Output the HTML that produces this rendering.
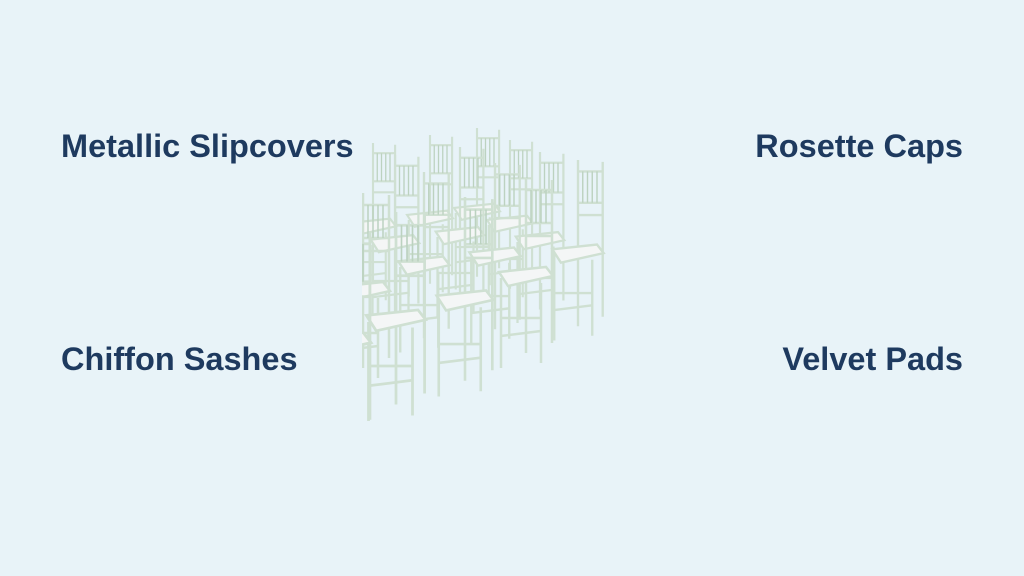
<!DOCTYPE html>
<html><head><style>
body{margin:0;width:1024px;height:576px;background:#e8f3f8;position:relative;overflow:hidden;font-family:"Liberation Sans",Arial,sans-serif}
.t{position:absolute;font-weight:bold;font-size:32.5px;color:#1e3a5f;line-height:1;white-space:nowrap}
svg{position:absolute;left:0;top:0}
</style></head><body>
<div class="t" style="left:61px;top:130px">Metallic Slipcovers</div>
<div class="t" style="right:61px;top:130px">Rosette Caps</div>
<div class="t" style="left:61px;top:343px">Chiffon Sashes</div>
<div class="t" style="right:61px;top:343px">Velvet Pads</div>
<svg width="1024" height="576">
<defs>
<clipPath id="c"><rect x="362" y="100" width="260" height="360"/></clipPath>
<g id="ch" fill="none" stroke="#cfe0d2" stroke-width="2.5">
<line x1="0" y1="0" x2="0" y2="175"/>
<line x1="26" y1="2" x2="26" y2="165"/>
<line x1="0" y1="12" x2="26" y2="12"/>
<line x1="0" y1="45" x2="26" y2="45"/>
<line x1="0" y1="58" x2="26" y2="58"/>
<g stroke-width="1.5" stroke="#bcd2c0"><line x1="5" y1="12" x2="5" y2="45"/><line x1="10" y1="12" x2="10" y2="45"/><line x1="15" y1="12" x2="15" y2="45"/><line x1="20" y1="12" x2="20" y2="45"/></g>
<line x1="-25" y1="100" x2="-25" y2="190"/>
<line x1="15" y1="105" x2="15" y2="185"/>
<line x1="-25" y1="140" x2="15" y2="140"/>
<line x1="-25" y1="158" x2="15" y2="153"/>
<path d="M-27 94 L20 89 L27 98 L-18 108 Z" fill="#f4f6f6" stroke="#cfe0d2"/>
</g>
</defs>
<g clip-path="url(#c)">
<use href="#ch" transform="translate(373,143) scale(0.85)"/>
<use href="#ch" transform="translate(430,135) scale(0.85)"/>
<use href="#ch" transform="translate(477,128) scale(0.85)"/>
<use href="#ch" transform="translate(510,140) scale(0.85)"/>
<use href="#ch" transform="translate(395,155) scale(0.9)"/>
<use href="#ch" transform="translate(460,147) scale(0.9)"/>
<use href="#ch" transform="translate(540,152) scale(0.9)"/>
<use href="#ch" transform="translate(578,160) scale(0.95)"/>
<use href="#ch" transform="translate(424,172) scale(0.95)"/>
<use href="#ch" transform="translate(495,163) scale(0.95)"/>
<use href="#ch" transform="translate(363,193) scale(1)"/>
<use href="#ch" transform="translate(526,178) scale(1)"/>
<use href="#ch" transform="translate(465,197) scale(1.05)"/>
<use href="#ch" transform="translate(396,212) scale(1.1)"/>
<use href="#ch" transform="translate(340,230) scale(1.15)"/>
</g>
</svg>
</body></html>
